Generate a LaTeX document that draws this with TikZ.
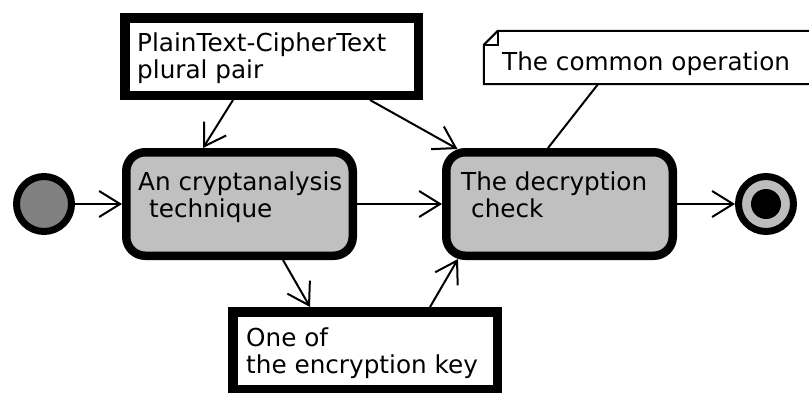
\documentclass[tikz,border=0pt]{standalone}
\usepackage{fontspec}
\setmainfont{DejaVu Sans}
\usetikzlibrary{arrows.meta,calc}
\definecolor{actgray}{HTML}{C0C0C0}
\definecolor{initgray}{HTML}{808080}
\definecolor{ringgray}{HTML}{BDBDBD}
\begin{document}
\begin{tikzpicture}[x=1pt,y=-1pt,
  lbl/.style={anchor=base west, inner sep=0pt, align=left, font=\fontsize{24.7}{27}\selectfont},
  objbox/.style={draw, line width=9.5pt, fill=white, inner sep=0pt, minimum height=77.5pt},
  actbox/.style={draw, line width=8.5pt, fill=actgray, rounded corners=19pt, inner sep=0pt,
    minimum width=226.5pt, minimum height=103.5pt},
  flow/.style={line width=2pt, -{Straight Barb[length=21pt,width=26pt]}},
  notelink/.style={line width=2pt},
]
\useasboundingbox (0,0) rectangle (809,392);

% initial node
\node[circle, draw, line width=7pt, fill=initgray, minimum size=55pt, inner sep=0pt] (init) at (44,204) {};

% actions
\node[actbox] (act1) at (239.5,204) {};
\node[lbl] (act1t) at (138,217) {An cryptanalysis\\\hspace*{11pt}technique};
\node[actbox] (act2) at (559.5,204) {};
\node[lbl] (act2t) at (461,217) {The decryption\\\hspace*{10pt}check};

% final node
\node[circle, draw, line width=7pt, fill=ringgray, minimum size=55pt, inner sep=0pt] (final) at (766,204) {};
\node[circle, fill=black, minimum size=30pt, inner sep=0pt] (finaldot) at (766,204) {};

% object nodes
\node[objbox, minimum width=293.5pt] (obj1) at (271.5,56.5) {};
\node[lbl] (obj1t) at (137,78) {PlainText-CipherText\\plural pair};
\node[objbox, minimum width=264.5pt] (obj2) at (365,350.5) {};
\node[lbl] (obj2t) at (246,373) {One of\\the encryption key};

% note
\node[rectangle, minimum width=346pt, minimum height=53pt, inner sep=0pt] (note) at (657,57.5) {};
\draw[line width=2pt, fill=white]
  ($(note.north west)+(14,0)$) -- (note.north east) -- (note.south east) -- (note.south west)
  -- ($(note.north west)+(0,14)$) -- cycle;
\draw[line width=1.5pt] ($(note.north west)+(14,0)$) -- ($(note.north west)+(14,14)$) -- ($(note.north west)+(0,14)$);
\node[lbl] (notet) at (502,70) {The common operation};

% connectors
\draw[flow] (init) -- (act1);
\draw[flow] (act1) -- (act2);
\draw[flow] (act2) -- (final);
\draw[flow] ([xshift=-38.5pt]obj1.south) -- ([xshift=-36.5pt]act1.north);
\draw[flow] ([xshift=98.5pt]obj1.south) -- ([xshift=-102pt,yshift=-1pt]act2.north);
\draw[flow] ([xshift=43.5pt]act1.south) -- ([xshift=-55pt]obj2.north);
\draw[flow] ([xshift=65pt]obj2.north) -- ([xshift=-101.5pt,yshift=1pt]act2.south);
\draw[notelink] ([xshift=-59pt]note.south) -- ([xshift=-11.5pt]act2.north);
\end{tikzpicture}
\end{document}
